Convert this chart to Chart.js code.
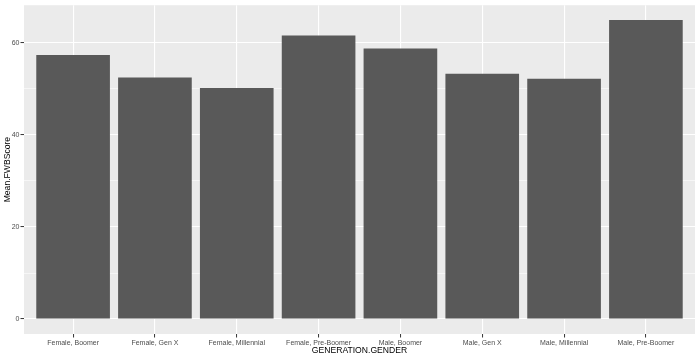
<!DOCTYPE html>
<html>
<head>
<meta charset="utf-8">
<script src="https://cdn.jsdelivr.net/npm/chart.js@4/dist/chart.umd.min.js"></script>
<style>
  html, body { margin: 0; padding: 0; background: #ffffff; }
  canvas { display: block; }
</style>
</head>
<body>
<canvas id="c" width="700" height="357"></canvas>
<script>
const categories = ["Female, Boomer", "Female, Gen X", "Female, Millennial", "Female, Pre-Boomer",
                    "Male, Boomer", "Male, Gen X", "Male, Millennial", "Male, Pre-Boomer"];
const meanFWBScore = [57.4, 52.5, 50.2, 61.6, 58.8, 53.3, 52.2, 65.0];
const yTicks = [0, 10, 20, 30, 40, 50, 60];
const yLabelTicks = [0, 20, 40, 60];
const xTitle = "GENERATION.GENDER";
const yTitle = "Mean.FWBScore";

const panelBg = {
  id: 'panelBg',
  beforeDraw(chart) {
    const {ctx, chartArea: a} = chart;
    ctx.save();
    ctx.fillStyle = '#EBEBEB';
    ctx.fillRect(a.left, a.top, a.right - a.left, a.bottom - a.top);
    ctx.restore();
  }
};

const isMajor = v => yLabelTicks.includes(v);

new Chart(document.getElementById('c'), {
  type: 'bar',
  data: {
    datasets: [{
      data: meanFWBScore.map((v, i) => ({x: i + 1, y: v})),
      backgroundColor: '#595959',
      borderWidth: 0,
      barPercentage: 0.9,
      categoryPercentage: 1.0
    }]
  },
  options: {
    responsive: false,
    animation: false,
    devicePixelRatio: 1,
    layout: { padding: { top: 3, right: 5, left: 0, bottom: 0 } },
    plugins: { legend: { display: false }, tooltip: { enabled: false } },
    scales: {
      x: {
        type: 'linear',
        min: 0.4,
        max: 8.6,
        offset: false,
        afterBuildTicks(scale) { scale.ticks = categories.map((c, i) => ({value: i + 1})); },
        afterFit(scale) { scale.height = 23; },
        border: { display: false },
        grid: {
          offset: false,
          color: '#FFFFFF',
          lineWidth: 1.1,
          drawTicks: true,
          tickLength: 3.5,
          tickColor: '#333333',
          tickWidth: 1
        },
        ticks: {
          autoSkip: false,
          maxRotation: 0,
          minRotation: 0,
          padding: 1,
          color: '#4D4D4D',
          font: { family: 'Liberation Sans, Arial, sans-serif', size: 7 },
          callback: (v) => categories[Math.round(v) - 1]
        },
        title: {
          display: true,
          text: xTitle,
          color: '#000000',
          font: { family: 'Liberation Sans, Arial, sans-serif', size: 8.6 },
          padding: { top: 0, bottom: 1 }
        }
      },
      y: {
        type: 'linear',
        min: -3.25,
        max: 68.2,
        afterBuildTicks(scale) { scale.ticks = yTicks.map(v => ({value: v})); },
        afterFit(scale) { scale.width = 24; },
        border: { display: false },
        grid: {
          color: '#FFFFFF',
          lineWidth: ctx => isMajor(ctx.tick.value) ? 1.1 : 0.55,
          drawTicks: true,
          tickLength: 3.5,
          tickColor: ctx => isMajor(ctx.tick.value) ? '#333333' : 'rgba(0,0,0,0)',
          tickWidth: 1
        },
        ticks: {
          padding: 1,
          color: '#4D4D4D',
          font: { family: 'Liberation Sans, Arial, sans-serif', size: 7 },
          callback: (v) => isMajor(v) ? String(v) : ''
        },
        title: {
          display: true,
          text: yTitle,
          color: '#000000',
          font: { family: 'Liberation Sans, Arial, sans-serif', size: 8.6 },
          padding: { top: 2, bottom: 0 }
        }
      }
    }
  },
  plugins: [panelBg]
});
</script>
</body>
</html>
